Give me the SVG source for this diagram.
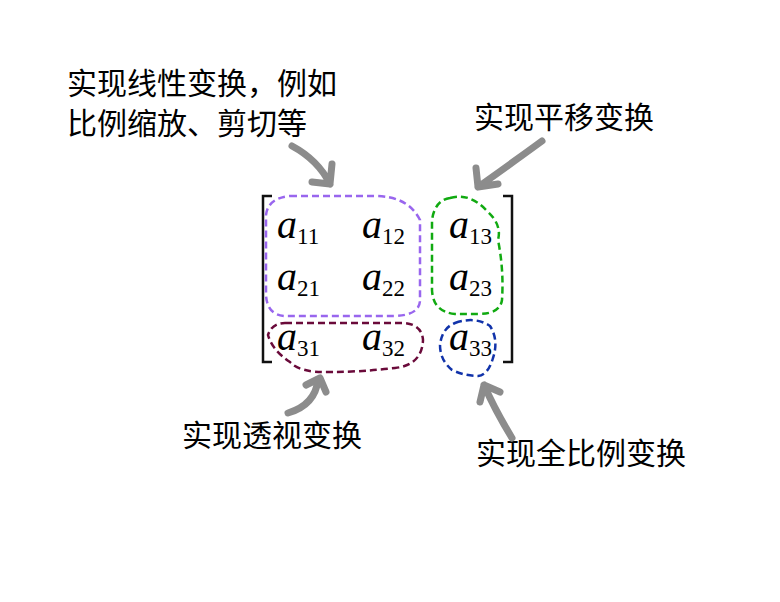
<svg xmlns="http://www.w3.org/2000/svg" width="780" height="602" viewBox="0 0 780 602">
<style>
.lab{font-family:"Noto Sans CJK SC","Noto Sans",sans-serif;font-size:30px;fill:#000}
.m{font-family:"Liberation Serif",serif;font-style:italic;font-size:40px;fill:#000}
.s{font-family:"Liberation Serif",serif;font-size:23px;font-style:normal}
.arr{fill:none;stroke:#8c8c8c;stroke-width:7;stroke-linecap:round;stroke-linejoin:round}
.d{fill:none;stroke-width:2.5;stroke-dasharray:7 4}
</style>
<rect width="780" height="602" fill="#fff"/>
<g id="labels">
<text class="lab" x="67" y="94">实现线性变换，例如</text>
<text class="lab" x="67" y="134">比例缩放、剪切等</text>
<text class="lab" x="474" y="128">实现平移变换</text>
<text class="lab" x="182" y="446">实现透视变换</text>
<text class="lab" x="476" y="464">实现全比例变换</text>
</g>
<g id="matrix">
<path d="M272 196 H263 V362 H272 M503 196 H512 V362 H503" fill="none" stroke="#111" stroke-width="2.5"/>
<text class="m" x="277" y="238">a<tspan class="s" dy="6">11</tspan></text>
<text class="m" x="362" y="238">a<tspan class="s" dy="6">12</tspan></text>
<text class="m" x="449" y="238">a<tspan class="s" dy="6">13</tspan></text>
<text class="m" x="277" y="290">a<tspan class="s" dy="6">21</tspan></text>
<text class="m" x="362" y="290">a<tspan class="s" dy="6">22</tspan></text>
<text class="m" x="449" y="290">a<tspan class="s" dy="6">23</tspan></text>
<text class="m" x="277" y="350">a<tspan class="s" dy="6">31</tspan></text>
<text class="m" x="362" y="350">a<tspan class="s" dy="6">32</tspan></text>
<text class="m" x="449" y="350">a<tspan class="s" dy="6">33</tspan></text>
</g>
<g id="regions">
<path class="d" stroke="#9966ee" d="M290 196 H375 Q408 196 420 220 V300 Q420 315 395 316 H285 Q267 315 266 295 V215 Q268 198 290 196 Z"/>
<path class="d" stroke="#11aa11" d="M450 198 Q470 192 488 212 Q502 225 498 240 Q504 270 502 300 Q500 314 478 314 H455 Q433 312 432 290 V220 Q435 200 450 198 Z"/>
<path class="d" stroke="#6a0a3a" d="M285 323 H405 Q422 325 423 340 Q422 365 395 368 Q360 372 330 372 Q300 373 290 362 Q272 350 268 335 Q272 323 285 323 Z"/>
<path class="d" stroke="#1133aa" d="M455 323 Q475 316 490 326 Q499 340 493 358 Q488 375 478 376 Q465 376 452 370 Q440 360 440 345 Q442 328 455 323 Z"/>
</g>
<g id="connectors">
<path class="arr" d="M292 146 Q318 160 330 184 M312 182 L330 184 L332 164"/>
<path class="arr" d="M542 141 Q505 168 478 187 M476 168 L478 187 L498 184"/>
<path class="arr" d="M288 413 Q315 405 318 380 M306 385 L320 378 L326 392"/>
<path class="arr" d="M512 438 Q495 410 484 385 M480 402 L484 385 L500 392"/>
</g>
</svg>
